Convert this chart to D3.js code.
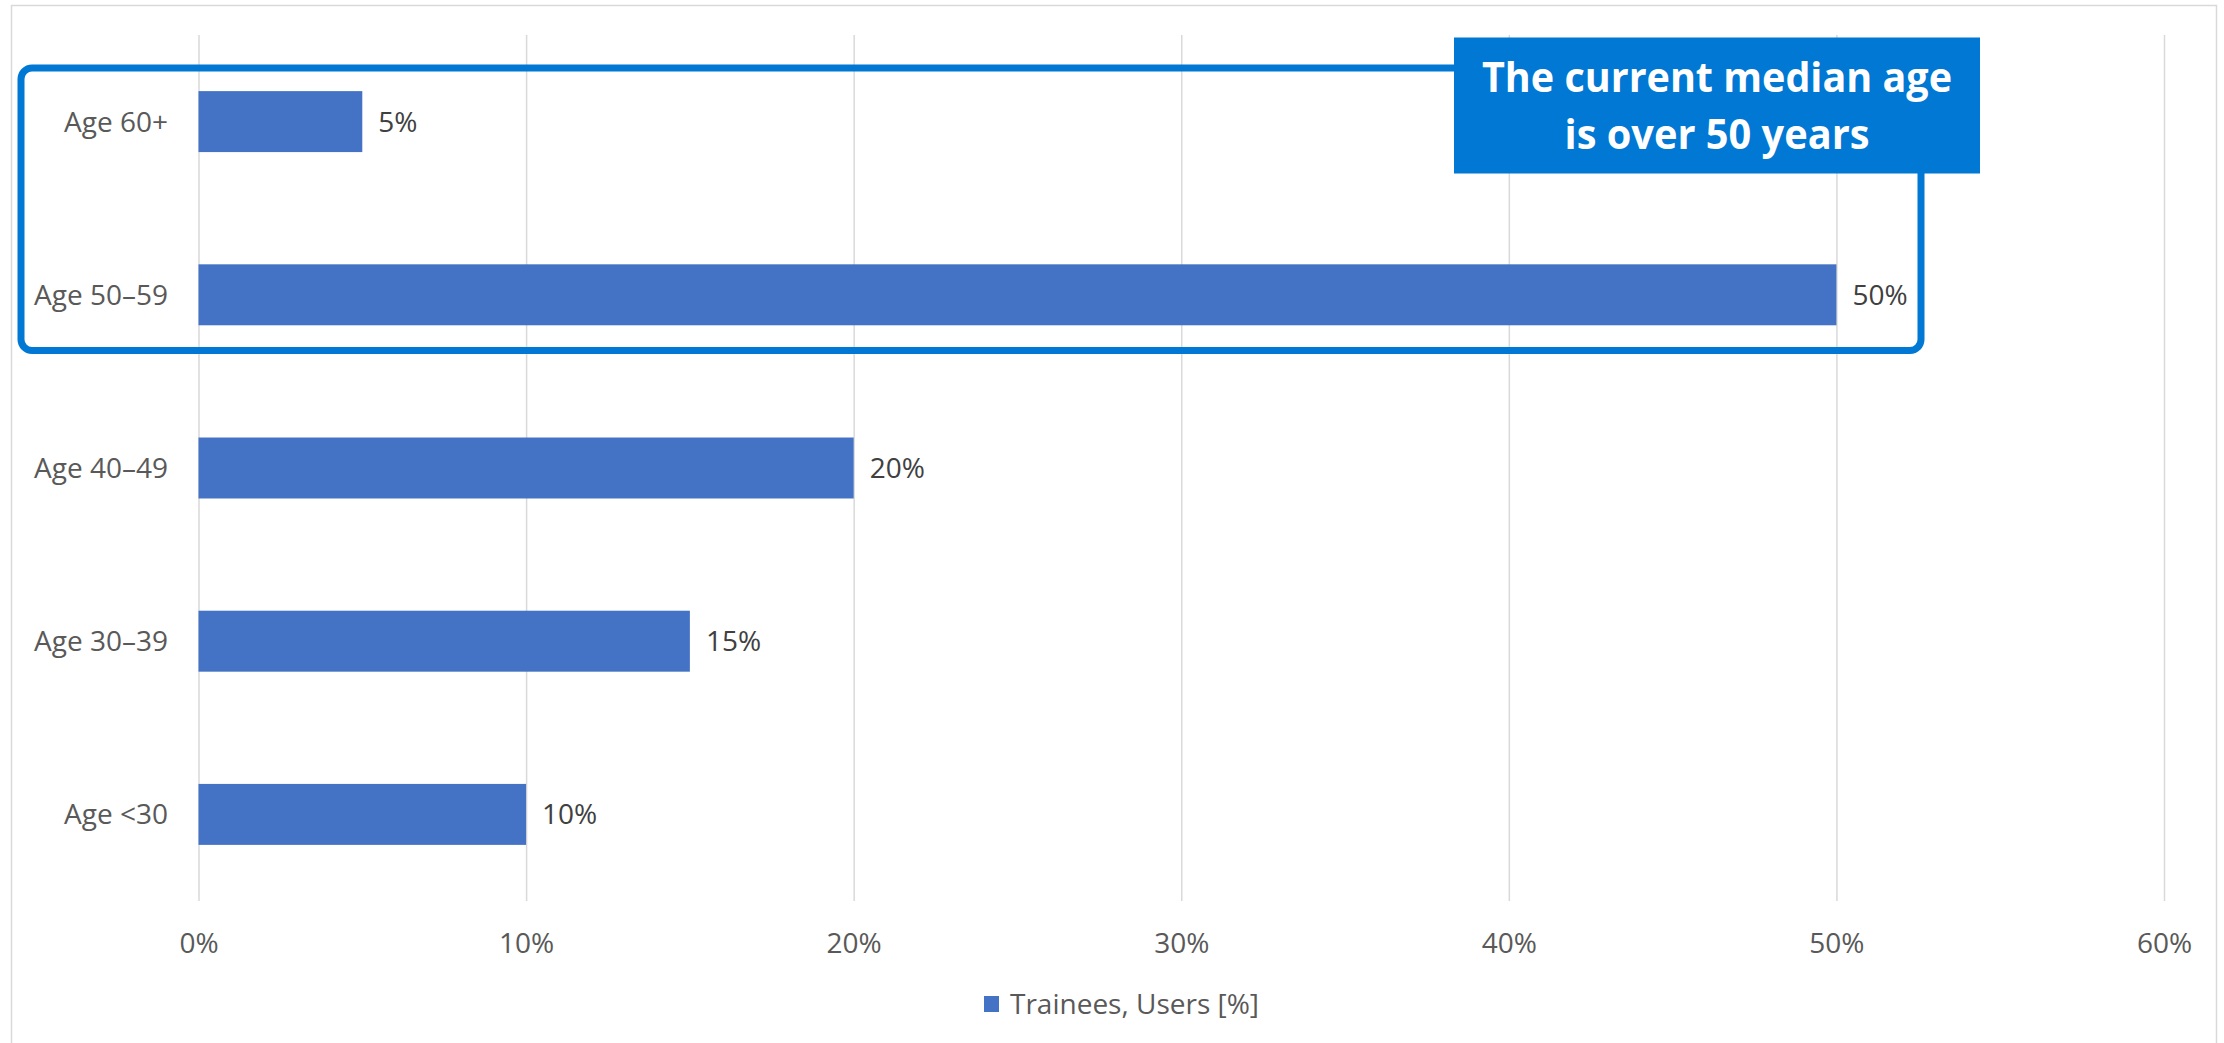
<!DOCTYPE html>
<html>
  <head>
    <meta charset="utf-8">
    <script src="https://cdn.jsdelivr.net/npm/d3@7"></script>
    <style>
      body { margin: 0; background: #fff; }
      text { font-family: "Open Sans", sans-serif; }
    </style>
  </head>
  <body>
    <svg id="chart"></svg>
    <script>

    var categories = ["Age 60+", "Age 50–59", "Age 40–49", "Age 30–39", "Age <30"]
    var values = [0.05, 0.50, 0.20, 0.15, 0.10]
    var xTicks = [0, 0.1, 0.2, 0.3, 0.4, 0.5, 0.6]
    var seriesName = "Trainees, Users [%]"
    var calloutLines = ["The current median age", "is over 50 years"]

    var width = 2224
    var height = 1043
    var plot = { left: 198.5, right: 2164, top: 35, bottom: 901 }

    var svg = d3.select("#chart")
      .attr("width", width)
      .attr("height", height)

    // chart frame
    svg.append("rect")
      .attr("x", 11.5).attr("y", 5.5)
      .attr("width", 2205).attr("height", 1100)
      .attr("fill", "none")
      .attr("stroke", "#d9d9d9")
      .attr("stroke-width", 1.5)

    var x = d3.scaleLinear().domain([0, 0.6]).range([plot.left, plot.right])
    var y = d3.scaleBand().domain(categories)
      .range([plot.top, plot.bottom])
      .paddingInner(0.648).paddingOuter(0.324)

    // gridlines + tick labels
    var xAxis = svg.append("g")
      .attr("transform", "translate(0," + plot.bottom + ")")
      .call(d3.axisBottom(x)
        .tickValues(xTicks)
        .tickFormat(d3.format(".0%"))
        .tickSize(-(plot.bottom - plot.top))
        .tickSizeOuter(0)
        .tickPadding(32))
    xAxis.select(".domain").remove()
    xAxis.selectAll("line").attr("stroke", "#d9d9d9").attr("stroke-width", 1.5)
    xAxis.selectAll("text")
      .attr("fill", "#595959")
      .style("font-size", "28px")
      .style("font-family", "'Open Sans', sans-serif")

    // bars
    svg.append("g").selectAll("rect")
      .data(values)
      .enter().append("rect")
      .attr("x", x(0))
      .attr("y", function(d, i) { return y(categories[i]) })
      .attr("width", function(d) { return x(d) - x(0) })
      .attr("height", y.bandwidth())
      .attr("fill", "#4472c4")

    // value labels
    svg.append("g").selectAll("text")
      .data(values)
      .enter().append("text")
      .attr("x", function(d) { return x(d) + 16 })
      .attr("y", function(d, i) { return y(categories[i]) + y.bandwidth() / 2 })
      .attr("dy", "0.36em")
      .attr("fill", "#404040")
      .style("font-size", "28px")
      .text(function(d) { return d3.format(".0%")(d) })

    // category labels
    svg.append("g").selectAll("text")
      .data(categories)
      .enter().append("text")
      .attr("x", 168)
      .attr("y", function(d) { return y(d) + y.bandwidth() / 2 })
      .attr("dy", "0.36em")
      .attr("text-anchor", "end")
      .attr("fill", "#595959")
      .style("font-size", "28px")
      .text(function(d) { return d })

    // legend
    svg.append("rect")
      .attr("x", 984).attr("y", 996)
      .attr("width", 15).attr("height", 16)
      .attr("fill", "#4472c4")
    svg.append("text")
      .attr("x", 1010).attr("y", 1004)
      .attr("dy", "0.36em")
      .attr("fill", "#595959")
      .style("font-size", "28px")
      .text(seriesName)

    // highlight outline round top two rows
    svg.append("rect")
      .attr("x", 21).attr("y", 68)
      .attr("width", 1900).attr("height", 282.5)
      .attr("rx", 11)
      .attr("fill", "none")
      .attr("stroke", "#0078d4")
      .attr("stroke-width", 7)

    // callout box
    svg.append("rect")
      .attr("x", 1454).attr("y", 37.5)
      .attr("width", 526).attr("height", 136)
      .attr("fill", "#0078d4")

    // Calibri-ish narrow bold: squeeze a taller font to the measured widths
    var calloutWidths = [470, 305]
    svg.append("g").selectAll("text")
      .data(calloutLines)
      .enter().append("text")
      .attr("x", 1717)
      .attr("y", function(d, i) { return 92 + i * 57 })
      .attr("text-anchor", "middle")
      .attr("textLength", function(d, i) { return calloutWidths[i] })
      .attr("lengthAdjust", "spacingAndGlyphs")
      .attr("fill", "#ffffff")
      .style("font-size", "42px")
      .style("font-weight", "bold")
      .text(function(d) { return d })

    </script>
  </body>
</html>
